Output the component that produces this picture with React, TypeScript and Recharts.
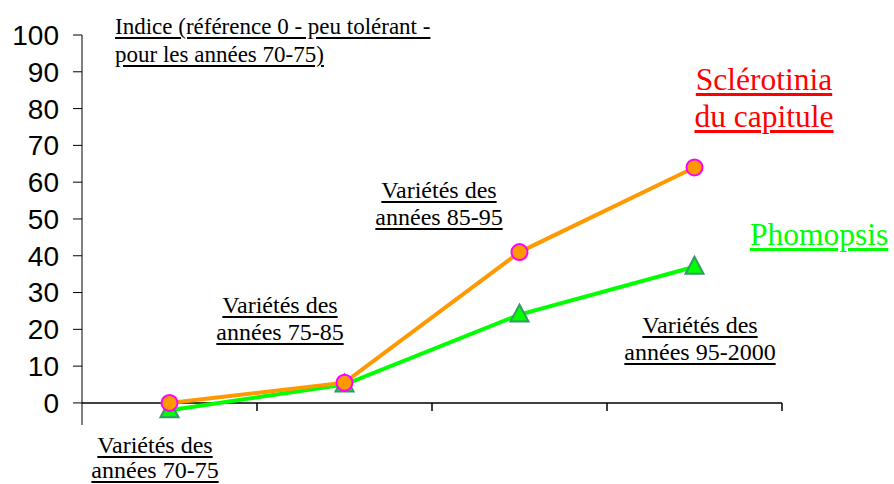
import { Line, LineChart, ReferenceLine, YAxis, XAxis } from "recharts";

const categories = ["Variétés des années 70-75", "Variétés des années 75-85", "Variétés des années 85-95", "Variétés des années 95-2000"];
const sclerotinia = [0, 5.5, 41, 64];
const phomopsis = [-2, 5, 24, 37];
const yTicks = [0, 10, 20, 30, 40, 50, 60, 70, 80, 90, 100];
const boundaries = [1, 2, 3, 4];

const data = categories.map((name, i) => ({ x: i + 0.5, name, sclerotinia: sclerotinia[i], phomopsis: phomopsis[i] }));

const serif = '"Liberation Serif", "DejaVu Serif", serif';

function Triangle(props: any) {
  const { cx, cy } = props;
  if (cx == null || cy == null) return null;
  return (
    <polygon
      points={`${cx},${cy - 10} ${cx - 9},${cy + 7} ${cx + 9},${cy + 7}`}
      fill="#00ff00"
      stroke="#339966"
      strokeWidth={2}
    />
  );
}

function Note({ left, top, lines, size = 24, color = "#000", lh = 27, align = "center" }: any) {
  return (
    <div
      style={{
        position: "absolute",
        left,
        top,
        transform: align === "center" ? "translateX(-50%)" : undefined,
        fontFamily: serif,
        fontSize: size,
        lineHeight: `${lh}px`,
        color,
        textAlign: align,
        whiteSpace: "nowrap",
        textDecoration: "underline",
        textUnderlineOffset: 3
      }}
    >
      {lines.map((l: string, i: number) => (
        <div key={i}>{l}</div>
      ))}
    </div>
  );
}

export default function App() {
  return (
    <div style={{ position: "relative", width: 894, height: 484, background: "#fff", overflow: "hidden" }}>
      <style>{`body{margin:0}`}</style>
      <LineChart width={894} height={484} data={data} margin={{ left: 0, right: 112, top: 35, bottom: 59 }}>
        <XAxis type="number" dataKey="x" domain={[0, 4]} hide />
        <YAxis
          domain={[-6, 100]}
          ticks={yTicks}
          width={82}
          stroke="#000"
          tickSize={9}
          tickMargin={14}
          interval={0}
          tick={{ fill: "#000", fontSize: 28, fontFamily: "'Liberation Sans', Arial, sans-serif" }}
        />
        <ReferenceLine y={0} stroke="#000" strokeWidth={1.5} />
        {boundaries.map((b) => (
          <ReferenceLine key={b} segment={[{ x: b, y: 0 }, { x: b, y: -2.2 }]} stroke="#000" strokeWidth={1.5} />
        ))}
        <Line
          dataKey="phomopsis"
          stroke="#00ff00"
          strokeWidth={4}
          isAnimationActive={false}
          dot={<Triangle />}
          activeDot={false}
        />
        <Line
          dataKey="sclerotinia"
          stroke="#ff9900"
          strokeWidth={4}
          isAnimationActive={false}
          dot={{ r: 8, fill: "#ff9900", stroke: "#ff00ff", strokeWidth: 2 }}
          activeDot={false}
        />
      </LineChart>
      <Note left={115} top={13} size={23} lh={28} align="left" lines={["Indice (référence 0 - peu tolérant -", "pour les années 70-75)"]} />
      <Note left={155} top={433} lh={25} lines={["Variétés des", "années 70-75"]} />
      <Note left={280} top={292} lines={["Variétés des", "années 75-85"]} />
      <Note left={439} top={177} lines={["Variétés des", "années 85-95"]} />
      <Note left={700} top={312} lines={["Variétés des", "années 95-2000"]} />
      <Note left={764} top={61} size={31.5} lh={37} color="#ff0000" lines={["Sclérotinia", "du capitule"]} />
      <Note left={750} top={216} size={31.5} lh={37} color="#00ff00" align="left" lines={["Phomopsis"]} />
    </div>
  );
}
